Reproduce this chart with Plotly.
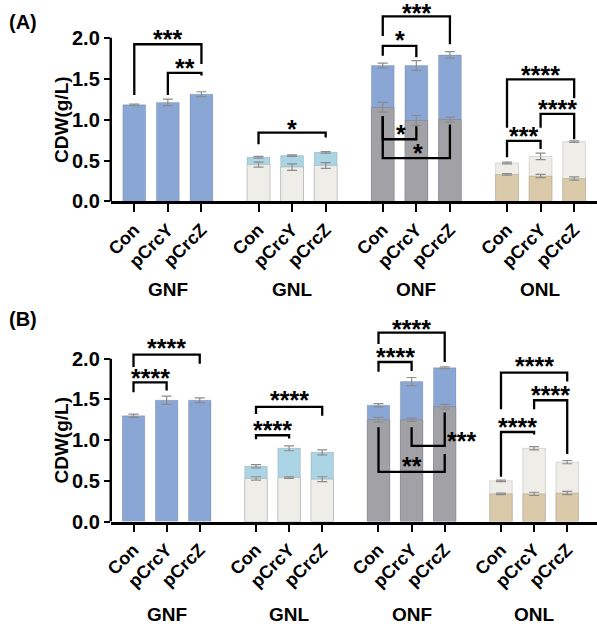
import plotly.graph_objects as go

# ---------------- data ----------------
categories = ["Con", "pCrcY", "pCrcZ"]
groups = ["GNF", "GNL", "ONF", "ONL"]

# Panel A
A_GNF_total = [1.18, 1.21, 1.31]
A_GNF_total_err = [0.01, 0.04, 0.03]
A_GNL_total = [0.54, 0.56, 0.60]
A_GNL_total_err = [0.01, 0.01, 0.01]
A_GNL_bottom = [0.45, 0.42, 0.44]
A_GNL_bottom_err = [0.03, 0.04, 0.035]
A_ONF_total = [1.66, 1.66, 1.79]
A_ONF_total_err = [0.03, 0.06, 0.04]
A_ONF_bottom = [1.15, 0.99, 1.00]
A_ONF_bottom_err = [0.06, 0.06, 0.03]
A_ONL_total = [0.47, 0.55, 0.73]
A_ONL_total_err = [0.01, 0.04, 0.01]
A_ONL_bottom = [0.33, 0.31, 0.28]
A_ONL_bottom_err = [0.01, 0.02, 0.02]

# Panel B
B_GNF_total = [1.30, 1.49, 1.49]
B_GNF_total_err = [0.02, 0.05, 0.03]
B_GNL_total = [0.68, 0.90, 0.85]
B_GNL_total_err = [0.02, 0.03, 0.03]
B_GNL_bottom = [0.53, 0.54, 0.52]
B_GNL_bottom_err = [0.02, 0.01, 0.03]
B_ONF_total = [1.43, 1.72, 1.89]
B_ONF_total_err = [0.02, 0.05, 0.01]
B_ONF_bottom = [1.25, 1.25, 1.41]
B_ONF_bottom_err = [0.03, 0.02, 0.03]
B_ONL_total = [0.50, 0.90, 0.73]
B_ONL_total_err = [0.01, 0.02, 0.02]
B_ONL_bottom = [0.34, 0.34, 0.35]
B_ONL_bottom_err = [0.01, 0.02, 0.02]

y_ticks = [0.0, 0.5, 1.0, 1.5, 2.0]

# significance brackets: (bar i, bar j, bracket level, left leg end, right leg end, label, text x offset, text y)
A_sig = [
    (0, 2, 1.92, 1.30, 1.68, "***", None, 2.06),
    (1, 2, 1.57, 1.30, 1.54, "**", None, 1.70),
    (3, 5, 0.84, 0.70, 0.78, "*", None, 0.96),
    (6, 8, 2.26, 2.02, 1.92, "***", None, 2.38),
    (6, 7, 1.90, 1.78, 1.76, "*", None, 2.04),
    (6, 7, 0.76, 1.04, 0.92, "*", 0.53, 0.90),
    (6, 8, 0.53, 1.04, 0.94, "*", 1.06, 0.67),
    (9, 11, 1.49, 0.90, 1.26, "****", None, 1.62),
    (10, 11, 1.07, 0.90, 0.76, "****", None, 1.20),
    (9, 10, 0.74, 0.54, 0.64, "***", None, 0.87),
]
B_sig = [
    (0, 2, 2.05, 1.90, 1.94, "****", None, 2.20),
    (0, 1, 1.71, 1.59, 1.61, "****", None, 1.84),
    (3, 5, 1.41, 1.32, 1.30, "****", None, 1.57),
    (3, 4, 1.06, 1.01, 1.02, "****", None, 1.20),
    (6, 8, 2.32, 2.18, 1.96, "****", None, 2.44),
    (6, 7, 1.96, 1.84, 1.85, "****", None, 2.10),
    (7, 8, 0.93, 1.16, 1.34, "***", 1.51, 1.06),
    (6, 8, 0.61, 1.16, 0.83, "**", 1.01, 0.75),
    (9, 11, 1.83, 1.38, 1.72, "****", None, 1.98),
    (10, 11, 1.49, 1.38, 0.83, "****", None, 1.63),
    (9, 10, 1.10, 0.55, 1.07, "****", None, 1.24),
]

# ---------------- style ----------------
BLUE = "#8AA6D5"
GRAY = "#A2A2A6"
LIGHTBLUE = "#ABD4E5"
BEIGE = "#EEEDE8"
TAN = "#DBCAA9"
FONT = "Liberation Sans"
GROUP_STEP = 3.7
BAR_W = 0.68

seg_colors = {"GNF": (BLUE, None), "GNL": (LIGHTBLUE, BEIGE), "ONF": (BLUE, GRAY), "ONL": (BEIGE, TAN)}

panels = {
    "A": {
        "GNF": (A_GNF_total, A_GNF_total_err, None, None),
        "GNL": (A_GNL_total, A_GNL_total_err, A_GNL_bottom, A_GNL_bottom_err),
        "ONF": (A_ONF_total, A_ONF_total_err, A_ONF_bottom, A_ONF_bottom_err),
        "ONL": (A_ONL_total, A_ONL_total_err, A_ONL_bottom, A_ONL_bottom_err),
    },
    "B": {
        "GNF": (B_GNF_total, B_GNF_total_err, None, None),
        "GNL": (B_GNL_total, B_GNL_total_err, B_GNL_bottom, B_GNL_bottom_err),
        "ONF": (B_ONF_total, B_ONF_total_err, B_ONF_bottom, B_ONF_bottom_err),
        "ONL": (B_ONL_total, B_ONL_total_err, B_ONL_bottom, B_ONL_bottom_err),
    },
}
axes_of = {"A": ("x", "y"), "B": ("x2", "y2")}
sig_of = {"A": A_sig, "B": B_sig}


def xpos(g, j):
    return g * GROUP_STEP + j


all_x = [xpos(g, j) for g in range(len(groups)) for j in range(len(categories))]
all_text = [c for g in groups for c in categories]

fig = go.Figure()
err_style = dict(type="data", color="#8C8C8C", thickness=1.2, width=5)
outline = dict(color="rgba(0,0,0,0.16)", width=0.8)

for pname, pdata in panels.items():
    xa, ya = axes_of[pname]
    for g, grp in enumerate(groups):
        tot, tot_e, bot, bot_e = pdata[grp]
        top_c, bot_c = seg_colors[grp]
        xs = [xpos(g, j) for j in range(len(categories))]
        fig.add_trace(go.Bar(x=xs, y=tot, width=BAR_W, marker=dict(color=top_c, line=outline),
                             error_y=dict(array=tot_e, **err_style), xaxis=xa, yaxis=ya,
                             showlegend=False, hoverinfo="skip"))
        if bot is not None:
            fig.add_trace(go.Bar(x=xs, y=bot, width=BAR_W, marker=dict(color=bot_c, line=outline),
                                 error_y=dict(array=bot_e, **err_style), xaxis=xa, yaxis=ya,
                                 showlegend=False, hoverinfo="skip"))

shapes = []
annotations = []
for pname in ["A", "B"]:
    xa, ya = axes_of[pname]
    for (i, j, lvl, yl, yr, lab, tx, ty) in sig_of[pname]:
        x1, x2 = all_x[i], all_x[j]
        shapes.append(dict(type="path", xref=xa, yref=ya,
                           path=f"M {x1},{yl} L {x1},{lvl} L {x2},{lvl} L {x2},{yr}",
                           line=dict(color="black", width=2.3)))
        txx = (x1 + x2) / 2 if tx is None else x1 + tx
        annotations.append(dict(x=txx, y=ty, xref=xa, yref=ya, text=lab, showarrow=False,
                                xanchor="center", yanchor="middle",
                                font=dict(family=FONT, size=25, color="black", weight="bold"),
                                yshift=-6))
    # y axis line (0 to 2.0)
    shapes.append(dict(type="line", xref="paper", yref=ya, x0=105 / 597, x1=105 / 597,
                       y0=0, y1=2.0, line=dict(color="black", width=2.5)))
    # group labels
    for g, grp in enumerate(groups):
        annotations.append(dict(x=xpos(g, 1), y=1 - 295 / 637 if pname == "A" else 1 - 625 / 637,
                                xref=xa, yref="paper", text=grp, showarrow=False,
                                xanchor="center", yanchor="middle",
                                font=dict(family=FONT, size=19, color="black", weight="bold")))
    # y title
    annotations.append(dict(x=55 / 597, y=1.0, xref="paper", yref=ya, text="CDW(g/L)", textangle=-90,
                            xanchor="center", yanchor="middle", showarrow=False,
                            font=dict(family=FONT, size=19, color="black", weight="bold")))

annotations.append(dict(x=0, y=1 - 22 / 637, xref="paper", yref="paper", text="(A)", xanchor="left",
                        yanchor="middle", showarrow=False,
                        font=dict(family=FONT, size=20, color="black", weight="bold")))
annotations.append(dict(x=0, y=1 - 325 / 637, xref="paper", yref="paper", text="(B)", xanchor="left",
                        yanchor="middle", showarrow=False,
                        font=dict(family=FONT, size=20, color="black", weight="bold")))

xaxis_common = dict(tickvals=all_x, ticktext=all_text, tickangle=-45, showline=True, linecolor="black",
                    linewidth=2.5, ticks="outside", ticklen=8, tickwidth=2, tickcolor="black",
                    showgrid=False, zeroline=False,
                    tickfont=dict(family=FONT, size=18, color="black", weight="bold"))
yaxis_common = dict(range=[0, 2.45], tickvals=y_ticks, tickformat=".1f", showline=False, ticks="outside",
                    ticklen=6, tickwidth=2, tickcolor="black", showgrid=False, zeroline=False,
                    tickfont=dict(family=FONT, size=20, color="black", weight="bold"))

fig.update_layout(
    width=597, height=637, margin=dict(l=0, r=0, t=0, b=0),
    paper_bgcolor="white", plot_bgcolor="white", barmode="overlay",
    xaxis=dict(domain=[105 / 597, 1], anchor="y", range=[-0.7, 13.78], **xaxis_common),
    xaxis2=dict(domain=[105 / 597, 1], anchor="y2", range=[-0.687, 14.0], **xaxis_common),
    yaxis=dict(domain=[1 - 205 / 637, 1 - 0.9 / 637], anchor="x", **yaxis_common),
    yaxis2=dict(domain=[1 - 530.7 / 637, 1 - 327.8 / 637], anchor="x2", **yaxis_common),
    shapes=shapes, annotations=annotations,
)

fig.write_html("out.html")
